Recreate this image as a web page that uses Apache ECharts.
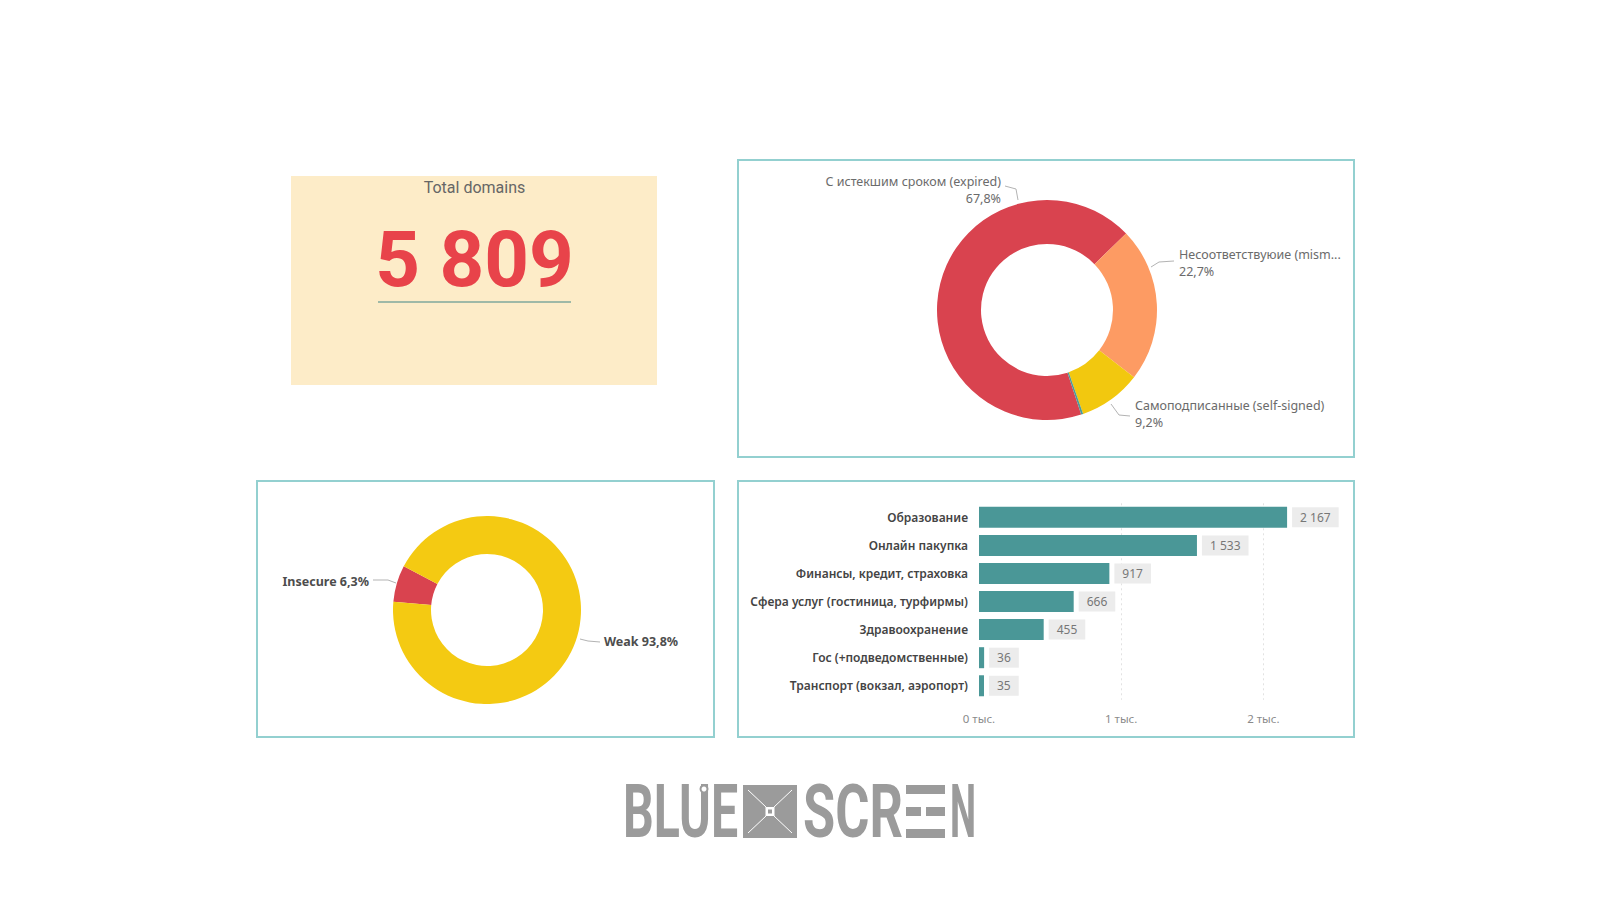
<!DOCTYPE html>
<html><head><meta charset="utf-8">
<script src="https://cdn.jsdelivr.net/npm/echarts@6/dist/echarts.min.js"></script>
<style>html,body{margin:0;padding:0;background:#fff;} #c{width:1600px;height:900px;}</style>
</head><body><div id="c"></div>
<script>
// ---------- DATA ----------
const kpiTitle = 'Total domains';
const kpiValue = 5809;

const certNames = ['С истекшим сроком (expired)', 'Несоответствуюие (mism...', 'Самоподписанные (self-signed)', 'Другие'];
const certValues = [67.8, 22.7, 9.2, 0.3];

const strengthNames = ['Insecure', 'Weak'];
const strengthValues = [6.3, 93.8];

const sectorNames = ['Образование', 'Онлайн пакупка', 'Финансы, кредит, страховка', 'Сфера услуг (гостиница, турфирмы)', 'Здравоохранение', 'Гос (+подведомственные)', 'Транспорт (вокзал, аэропорт)'];
const sectorValues = [2167, 1533, 917, 666, 455, 36, 35];
const axisTicks = [0, 1000, 2000];
const axisTickLabels = ['0 тыс.', '1 тыс.', '2 тыс.'];
const gridLineTicks = [1000, 2000];

// ---------- HELPERS ----------
const fmtNum = n => String(n).replace(/\B(?=(\d{3})+(?!\d))/g, ' ');
const fmtPct = v => v.toFixed(1).replace('.', ',') + '%';
function fitScale(text, font, target) {
  const ctx = document.createElement('canvas').getContext('2d');
  ctx.font = font;
  return target / ctx.measureText(text).width;
}

// ---------- STYLE / LAYOUT ----------
const certColors = ['#d9434f', '#fd9b63', '#f2c80f', '#4f9a96'];
const certLabelPos = [
  { x: 1001, y: 189.5, align: 'right' },
  { x: 1179, y: 262.5, align: 'left' },
  { x: 1135, y: 413.5, align: 'left' },
  null
];
const strengthColors = ['#d9434f', '#f4ca12'];
const strengthLabelPos = [
  { x: 369, y: 581, align: 'right' },
  { x: 604, y: 641, align: 'left' }
];
const panelStroke = '#93d0d0';
const leader = '#b3b3b3';
const logoGray = '#9b9b9b';
const logoFont = 'bold 74px Roboto';

const chart = echarts.init(document.getElementById('c'), null, { renderer: 'svg', width: 1600, height: 900 });

const graphics = [
  // panels
  { type: 'rect', shape: { x: 738, y: 160, width: 616, height: 297 }, style: { fill: '#fff', stroke: panelStroke, lineWidth: 2 }, z: -10 },
  { type: 'rect', shape: { x: 257, y: 481, width: 457, height: 256 }, style: { fill: '#fff', stroke: panelStroke, lineWidth: 2 }, z: -10 },
  { type: 'rect', shape: { x: 738, y: 481, width: 616, height: 256 }, style: { fill: '#fff', stroke: panelStroke, lineWidth: 2 }, z: -10 },
  // KPI card
  { type: 'rect', shape: { x: 291, y: 176, width: 366, height: 209 }, style: { fill: '#fdecc8' }, z: -10 },
  { type: 'text', x: 474.5, y: 187, style: { text: kpiTitle, fontFamily: 'Roboto', fontSize: 16, fill: '#666', align: 'center', verticalAlign: 'middle' } },
  { type: 'text', x: 474.5, y: 259, style: { text: fmtNum(kpiValue), fontFamily: 'Roboto', fontWeight: 'bold', fontSize: 78, fill: '#e8434a', align: 'center', verticalAlign: 'middle' } },
  { type: 'line', shape: { x1: 378, y1: 302, x2: 571, y2: 302 }, style: { stroke: '#7fa89d', lineWidth: 1.5 } },
  // leader lines top donut
  { type: 'polyline', shape: { points: [[1005, 186], [1016, 189], [1018, 200]] }, style: { stroke: leader, lineWidth: 1, fill: null } },
  { type: 'polyline', shape: { points: [[1151, 267], [1159, 262], [1174, 261]] }, style: { stroke: leader, lineWidth: 1, fill: null } },
  { type: 'polyline', shape: { points: [[1111, 404], [1119, 415], [1130, 416]] }, style: { stroke: leader, lineWidth: 1, fill: null } },
  // leader lines bottom donut
  { type: 'polyline', shape: { points: [[373, 580], [388, 580], [396, 583]] }, style: { stroke: leader, lineWidth: 1, fill: null } },
  { type: 'polyline', shape: { points: [[580, 639], [588, 641], [600, 642]] }, style: { stroke: leader, lineWidth: 1, fill: null } },
  // logo
  { type: 'text', x: 623, y: 812, scaleX: fitScale('BLUE', logoFont, 115), style: { text: 'BLUE', font: logoFont, fill: logoGray, align: 'left', verticalAlign: 'middle' } },
  { type: 'circle', shape: { cx: 704, cy: 789, r: 3.5 }, style: { fill: '#fff', stroke: logoGray, lineWidth: 2 } },
  { type: 'rect', shape: { x: 743, y: 785, width: 54, height: 53 }, style: { fill: logoGray } },
  { type: 'line', shape: { x1: 748, y1: 790, x2: 766, y2: 807 }, style: { stroke: '#fff', lineWidth: 1 } },
  { type: 'line', shape: { x1: 792, y1: 790, x2: 774, y2: 807 }, style: { stroke: '#fff', lineWidth: 1 } },
  { type: 'line', shape: { x1: 748, y1: 833, x2: 766, y2: 816 }, style: { stroke: '#fff', lineWidth: 1 } },
  { type: 'line', shape: { x1: 792, y1: 833, x2: 774, y2: 816 }, style: { stroke: '#fff', lineWidth: 1 } },
  { type: 'rect', shape: { x: 765.5, y: 807, width: 9, height: 9 }, style: { fill: '#fff' } },
  { type: 'rect', shape: { x: 768, y: 809.5, width: 4, height: 4 }, style: { fill: logoGray } },
  { type: 'text', x: 803, y: 812, scaleX: fitScale('SCR', logoFont, 100), style: { text: 'SCR', font: logoFont, fill: logoGray, align: 'left', verticalAlign: 'middle' } },
  { type: 'rect', shape: { x: 906, y: 785, width: 39, height: 9 }, style: { fill: logoGray } },
  { type: 'rect', shape: { x: 906, y: 807, width: 15, height: 9 }, style: { fill: logoGray } },
  { type: 'rect', shape: { x: 926, y: 807, width: 19, height: 9 }, style: { fill: logoGray } },
  { type: 'rect', shape: { x: 906, y: 829, width: 39, height: 9 }, style: { fill: logoGray } },
  { type: 'text', x: 950, y: 812, scaleX: fitScale('N', logoFont, 26), style: { text: 'N', font: logoFont, fill: logoGray, align: 'left', verticalAlign: 'middle' } }
];

const option = {
  backgroundColor: '#ffffff',
  animation: false,
  textStyle: { fontFamily: 'Noto Sans' },
  graphic: { elements: graphics },
  grid: { left: 979, top: 503.3, width: 327, height: 196.5, containLabel: false },
  xAxis: {
    type: 'value', min: 0, max: 2300, interval: 1000,
    axisLine: { show: false }, axisTick: { show: false },
    splitLine: { show: false },
    axisLabel: {
      color: '#8a8a8a', fontSize: 11.5, margin: 13, showMaxLabel: false,
      formatter: v => { const i = axisTicks.indexOf(v); return i >= 0 ? axisTickLabels[i] : ''; }
    }
  },
  yAxis: {
    type: 'category', data: sectorNames, inverse: true,
    axisLine: { show: false }, axisTick: { show: false },
    axisLabel: { color: '#444', fontSize: 12, fontWeight: 600, margin: 11, fontFamily: 'Noto Sans' }
  },
  series: [
    {
      type: 'pie', center: [1047, 310], radius: [66, 110], startAngle: -71.9, clockwise: true,
      avoidLabelOverlap: false, silent: true, emphasis: { disabled: true },
      data: certNames.map((n, i) => ({ name: n, value: certValues[i], itemStyle: { color: certColors[i] }, label: { show: i < 3 } })),
      label: {
        show: true,
        formatter: p => '{n|' + p.name + '}\n{n|' + fmtPct(p.value) + '}',
        rich: { n: { fontSize: 12.5, color: '#6b6b6b', lineHeight: 17, fontFamily: 'Noto Sans' } }
      },
      labelLine: { show: false },
      labelLayout: p => { const pos = certLabelPos[p.dataIndex]; return pos ? { x: pos.x, y: pos.y, align: pos.align, verticalAlign: 'middle' } : {}; }
    },
    {
      type: 'pie', center: [487, 610], radius: [56, 94], startAngle: -185, clockwise: true,
      avoidLabelOverlap: false, silent: true, emphasis: { disabled: true },
      data: strengthNames.map((n, i) => ({ name: n, value: strengthValues[i], itemStyle: { color: strengthColors[i] } })),
      label: {
        show: true, formatter: p => p.name + ' ' + fmtPct(p.value),
        fontSize: 12.5, fontWeight: 'bold', color: '#4d4d4d', fontFamily: 'Noto Sans'
      },
      labelLine: { show: false },
      labelLayout: p => { const pos = strengthLabelPos[p.dataIndex]; return { x: pos.x, y: pos.y, align: pos.align, verticalAlign: 'middle' }; }
    },
    {
      type: 'line', data: [], silent: true, z: 1,
      markLine: {
        silent: true, symbol: 'none', label: { show: false }, z: 1,
        lineStyle: { color: '#e2e2e2', type: [2, 3], width: 1 },
        data: gridLineTicks.map(v => ({ xAxis: v }))
      }
    },
    {
      type: 'bar', data: sectorValues, barWidth: 21, silent: true,
      itemStyle: { color: '#4a9797' },
      label: {
        show: true, position: 'right', distance: 5,
        formatter: p => fmtNum(p.value),
        backgroundColor: '#ececec', color: '#777', fontSize: 12, padding: [4, 8]
      },
      z: 3
    }
  ]
};
chart.setOption(option);
</script>
</body></html>
